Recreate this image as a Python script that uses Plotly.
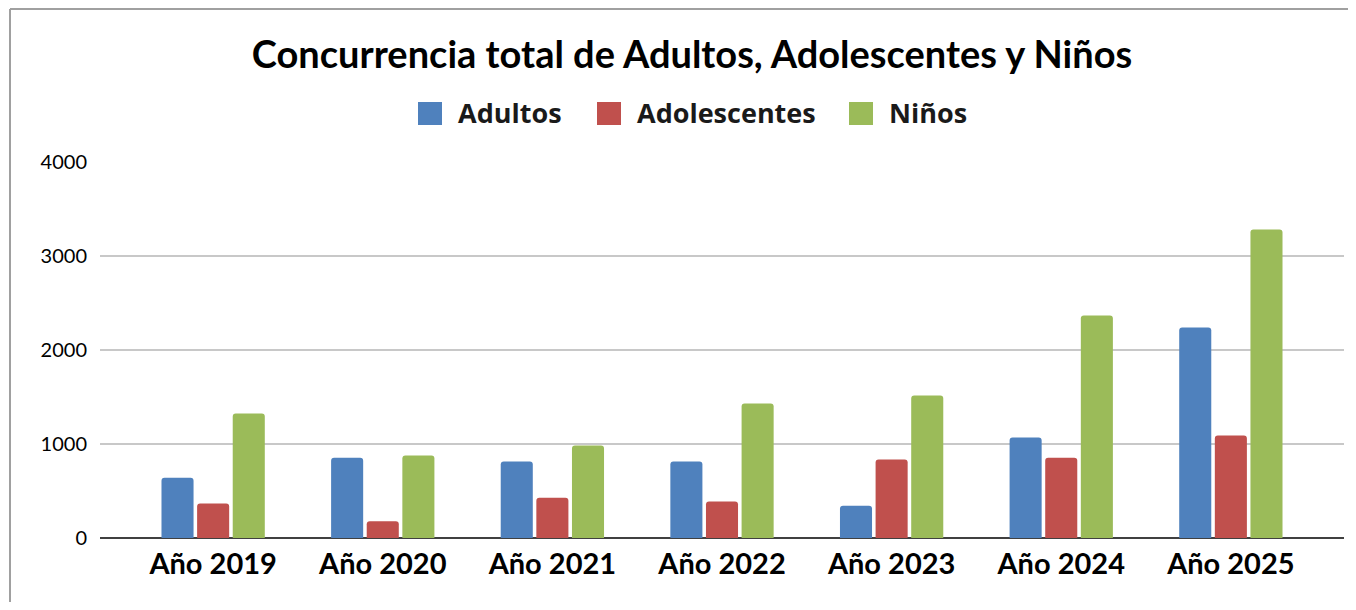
import plotly.graph_objects as go

categories = ["Año 2019", "Año 2020", "Año 2021", "Año 2022", "Año 2023", "Año 2024", "Año 2025"]
adultos = [642, 855, 813, 813, 344, 1068, 2240]
adolescentes = [366, 177, 429, 387, 834, 855, 1090]
ninos = [1324, 877, 983, 1430, 1515, 2367, 3283]
series_names = ["Adultos", "Adolescentes", "Niños"]
colors = ["#4F81BD", "#C0504D", "#9BBB59"]
y_ticks = [0, 1000, 2000, 3000, 4000]

FONT = "Lato"
OFF = 8  # browser body margin

W, H = 1356 - OFF - 8, 610 - OFF - 8
# reference pixel positions
PL, PR, PT, PB = 100, 1344, 162, 538
L = PL - OFF
T = PT - OFF
R = W - (PR - OFF)
B = H - (PB - OFF)
pw, ph = W - L - R, H - T - B


def px_x(x):
    return (x - OFF - L) / pw


def px_y(y):
    return (H - B - (y - OFF)) / ph


fig = go.Figure()
for name, vals, col in zip(series_names, [adultos, adolescentes, ninos], colors):
    fig.add_trace(go.Bar(x=categories, y=vals, name=name, showlegend=False,
                         marker=dict(color=col, line=dict(width=0))))

shapes = [
    dict(type="line", xref="paper", yref="paper", x0=px_x(10), x1=px_x(10), y0=px_y(9), y1=px_y(640),
         line=dict(color="#A0A0A0", width=2)),
    dict(type="line", xref="paper", yref="paper", x0=px_x(10), x1=px_x(1400), y0=px_y(9), y1=px_y(9),
         line=dict(color="#A0A0A0", width=2)),
]
annotations = []
legend_square_x = [418, 597, 849]
for name, col, sx in zip(series_names, colors, legend_square_x):
    shapes.append(dict(type="rect", xref="paper", yref="paper",
                       x0=px_x(sx), x1=px_x(sx + 24), y0=px_y(125), y1=px_y(102),
                       fillcolor=col, line=dict(width=0)))
    annotations.append(dict(text=name, xref="paper", yref="paper", x=px_x(sx + 38), y=px_y(112.5),
                            xanchor="left", yanchor="middle", showarrow=False,
                            font=dict(family="Open Sans", size=27, weight="bold", color="#1a1a1a")))

fig.update_layout(
    width=W, height=H,
    margin=dict(l=L, r=R, t=T, b=B),
    paper_bgcolor="white", plot_bgcolor="white",
    barmode="group", bargap=0.37, bargroupgap=0.1, barcornerradius=3,
    font=dict(family=FONT, color="#000000"),
    showlegend=False,
    title=dict(text="Concurrencia total de Adultos, Adolescentes y Niños",
               font=dict(family=FONT, size=38, weight="bold", color="#000000"),
               x=(692 - OFF) / W, xanchor="center", xref="container",
               y=1 - (55 - OFF) / H, yanchor="middle", yref="container"),
    xaxis=dict(range=[-0.667, 6.667], showgrid=False, showline=False, zeroline=False,
               tickfont=dict(family=FONT, size=29, weight="bold", color="#000000"),
               ticks="", ticklabelstandoff=6, fixedrange=True),
    yaxis=dict(range=[0, 4000], tickvals=y_ticks, showgrid=True, gridcolor="#C8C8C8", gridwidth=1.5,
               zeroline=True, zerolinecolor="#404040", zerolinewidth=2, showline=False,
               tickfont=dict(family=FONT, size=20, color="#000000"),
               ticks="", ticklabelstandoff=12, fixedrange=True),
    shapes=shapes,
    annotations=annotations,
)

fig.write_html("out.html")
